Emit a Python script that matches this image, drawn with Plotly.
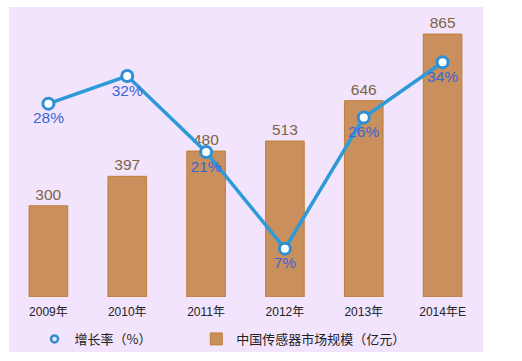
import plotly.graph_objects as go

years = ["2009年", "2010年", "2011年", "2012年", "2013年", "2014年E"]
market_size = [300, 397, 480, 513, 646, 865]
growth_rate = [28, 32, 21, 7, 26, 34]
growth_labels = ["28%", "32%", "21%", "7%", "26%", "34%"]

FONT = "Liberation Sans, Noto Sans CJK SC, sans-serif"
LEGFONT = dict(family="Noto Sans CJK SC, sans-serif", size=13, color="#222")
BG = "#f1e4fc"

fig = go.Figure()
fig.add_trace(go.Bar(
    x=years, y=market_size, name="中国传感器市场规模（亿元）",
    marker=dict(color="#c98f5c", line=dict(color="#bf7f38", width=1)),
    width=0.49, legend="legend2",
    text=[str(v) for v in market_size], textposition="outside",
    textfont=dict(family=FONT, size=15.5, color="#7d6446"),
    cliponaxis=False,
))
fig.add_trace(go.Scatter(
    x=years, y=growth_rate, yaxis="y2", mode="lines+markers+text",
    name="增长率（%）", showlegend=False,
    line=dict(color="#2f9ad8", width=3.5),
    marker=dict(symbol="circle", size=11, color="white",
                line=dict(color="#2f8fd2", width=3)),
    text=growth_labels, textposition="bottom center",
    textfont=dict(family=FONT, size=15.5, color="#3b66d8"),
    cliponaxis=False,
))
fig.add_trace(go.Scatter(
    x=[None], y=[None], yaxis="y2", mode="markers", name="增长率（%）",
    legend="legend",
    marker=dict(symbol="circle-open", size=7, color="#2f8fd2",
                line=dict(color="#2f8fd2", width=2.5)),
))

fig.update_layout(
    width=522, height=361,
    margin=dict(l=9, r=40, t=7, b=64),
    paper_bgcolor="white", plot_bgcolor=BG,
    font=dict(family=FONT, size=12, color="#222"),
    bargap=0.51,
    xaxis=dict(showgrid=False, showline=False, zeroline=False, ticks="",
               tickfont=dict(family=FONT, size=12, color="#222"),
               ticklabelstandoff=6,
               range=[-0.5, 5.5]),
    yaxis=dict(range=[0, 954], visible=False, showgrid=False),
    yaxis2=dict(range=[0, 42], overlaying="y", side="right", visible=False,
                showgrid=False),
    legend=dict(orientation="h", x=0.054, y=-0.093, xanchor="left", yanchor="top",
                font=LEGFONT, bgcolor="rgba(0,0,0,0)"),
    legend2=dict(orientation="h", x=0.396, y=-0.093, xanchor="left", yanchor="top",
                 font=LEGFONT, bgcolor="rgba(0,0,0,0)"),
    shapes=[dict(type="rect", xref="paper", yref="paper", layer="below",
                 x0=-0.00, x1=1.002, y0=-0.19, y1=1.0, fillcolor=BG, line=dict(width=0))],
)

fig.write_html("out.html", config={"displayModeBar": False},
               post_script="document.body.style.margin='0';")
